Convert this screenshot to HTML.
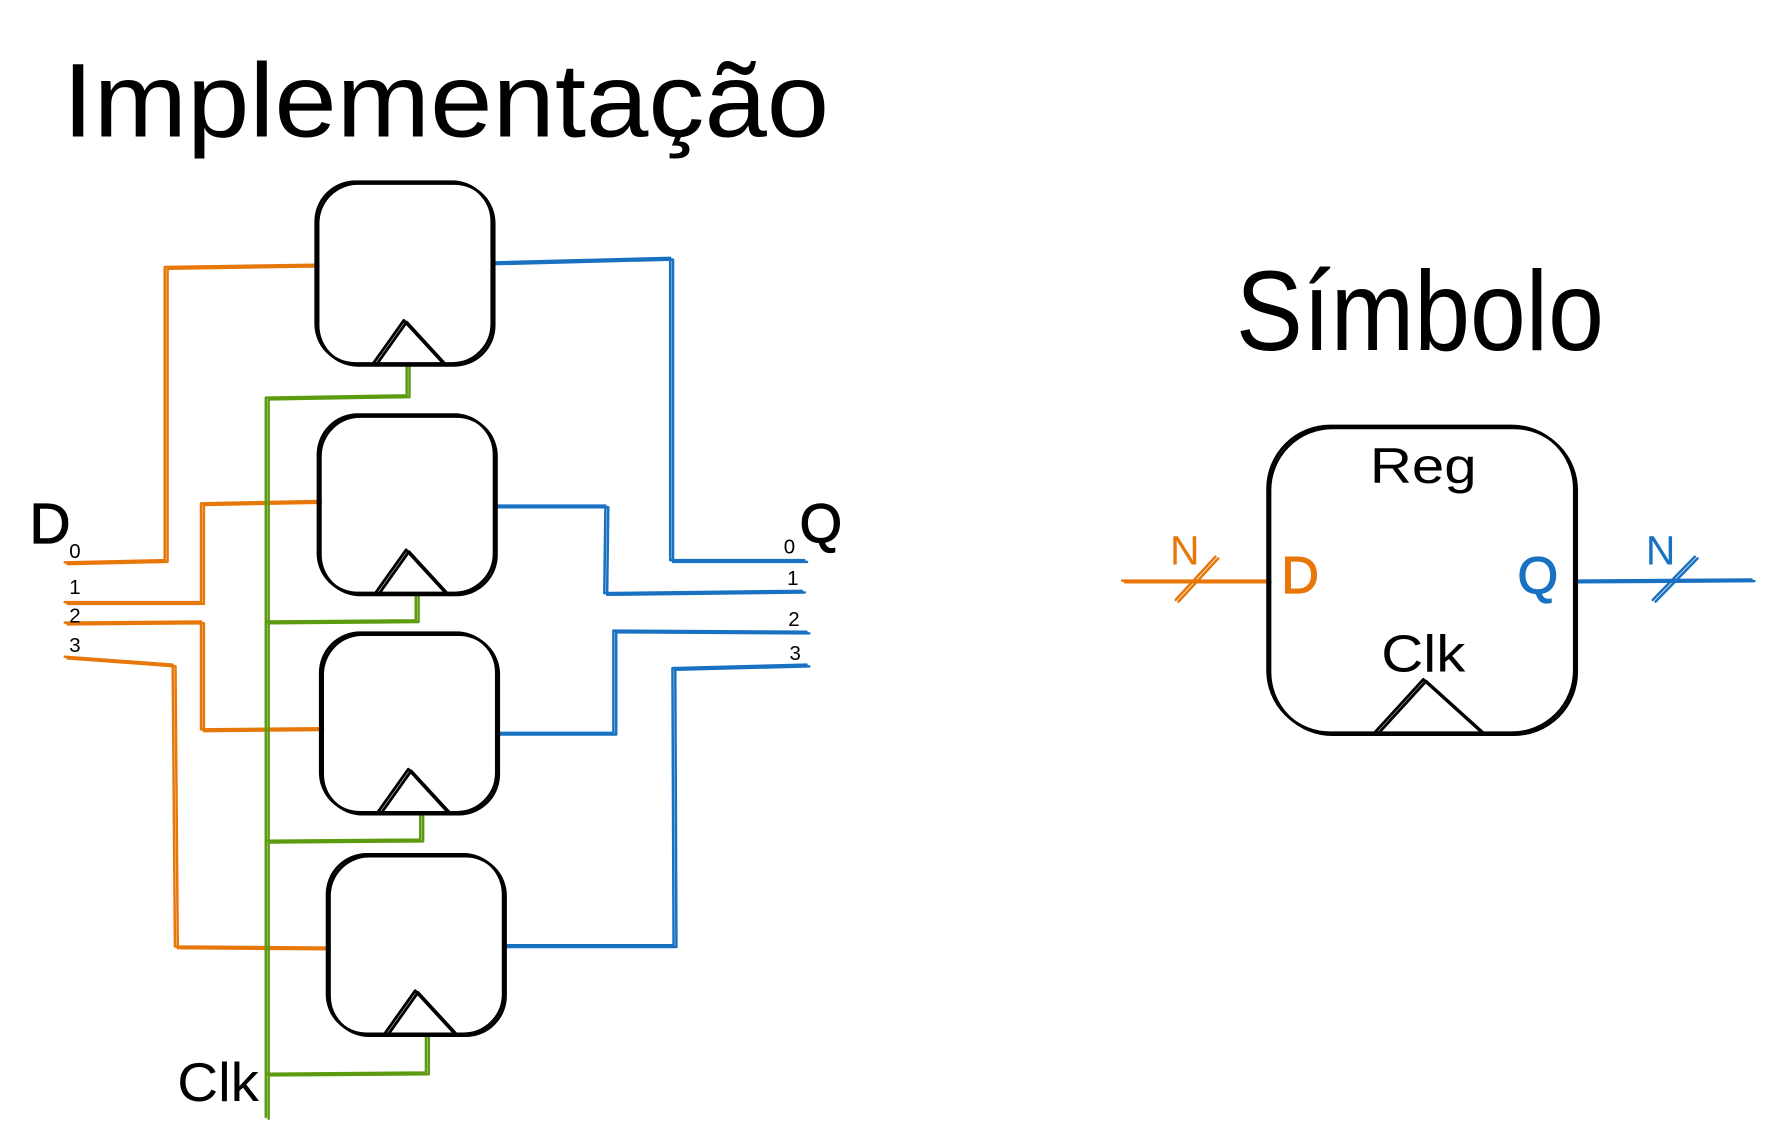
<!DOCTYPE html>
<html><head><meta charset="utf-8"><style>
html,body{margin:0;padding:0;background:#fff;}
svg{display:block;}
text{font-family:"Liberation Sans",sans-serif;}
</style></head><body>
<svg id="s" width="1772" height="1143" viewBox="0 0 1560 1006" preserveAspectRatio="none" xmlns="http://www.w3.org/2000/svg">
<rect width="1560" height="1006" fill="#fff"/>
<text x="55" y="120" font-size="92" textLength="675" lengthAdjust="spacingAndGlyphs" fill="#000">Implementação</text>
<text x="1088" y="308" font-size="100" textLength="324" lengthAdjust="spacingAndGlyphs" fill="#000">Símbolo</text>
<g id="wires"></g>
<g id="boxes" fill="none" stroke="#000" stroke-width="2.5" stroke-linecap="round" stroke-linejoin="round"></g>
<text x="26" y="478" font-size="50" fill="#000" stroke="#000" stroke-width="1">D</text>
<text x="61" y="491" font-size="18">0</text>
<text x="61" y="523" font-size="18">1</text>
<text x="61" y="548" font-size="18">2</text>
<text x="61" y="574" font-size="18">3</text>
<text x="704" y="477" font-size="48" fill="#000" stroke="#000" stroke-width="1">Q</text>
<text x="690" y="487" font-size="18">0</text>
<text x="693" y="515" font-size="18">1</text>
<text x="694" y="551" font-size="18">2</text>
<text x="695" y="581" font-size="18">3</text>
<text x="156" y="969" font-size="48" textLength="72" lengthAdjust="spacingAndGlyphs" fill="#000">Clk</text>
<text x="1206" y="425" font-size="44" textLength="94" lengthAdjust="spacingAndGlyphs" fill="#000">Reg</text>
<text x="1128" y="522" font-size="46" fill="#e8770a" stroke="#e8770a" stroke-width="1">D</text>
<text x="1336" y="522" font-size="46" fill="#1971c2" stroke="#1971c2" stroke-width="1">Q</text>
<text x="1216" y="591" font-size="46" textLength="74" lengthAdjust="spacingAndGlyphs" fill="#000">Clk</text>
<text x="1030" y="497" font-size="36" fill="#e8770a">N</text>
<text x="1449" y="497" font-size="36" fill="#1971c2">N</text>
</svg>
<script>
const NS="http://www.w3.org/2000/svg";
const O="#e8770a",B="#1971c2",G="#5c9a0f";
const wireG=document.getElementById('wires');
const boxG=document.getElementById('boxes');
function pl(parent,pts,color,name,w){
  for(let k=0;k<2;k++){
    const p=document.createElementNS(NS,'polyline');
    p.setAttribute('points',pts.map(q=>(q[0]+k*2.5)+','+(q[1]+k*1.5)).join(' '));
    p.setAttribute('fill','none');p.setAttribute('stroke',color);
    p.setAttribute('stroke-width',w||2.2);p.setAttribute('stroke-linecap','round');p.setAttribute('stroke-linejoin','round');
    
    
    parent.appendChild(p);
  }
}
pl(wireG,[[57,495],[145,493],[145,235],[278,233]],O,'wire-d0');
pl(wireG,[[57,530],[177,530],[177,443],[280,441]],O,'wire-d1');
pl(wireG,[[57,548],[177,547],[177,642],[282,641]],O,'wire-d2');
pl(wireG,[[57,578],[152,585],[154,833],[288,834]],O,'wire-d3');
pl(wireG,[[433,231],[590,227],[590,493],[708,493]],B,'wire-q0');
pl(wireG,[[436,445],[533,445],[532,522],[706,520]],B,'wire-q1');
pl(wireG,[[437,645],[540,645],[540,555],[710,556]],B,'wire-q2');
pl(wireG,[[443,832],[593,832],[592,588],[710,585]],B,'wire-q3');
pl(wireG,[[234,350],[234,983]],G,'clk-bus');
pl(wireG,[[235,350],[358,348],[358,320]],G,'clk-branch-0');
pl(wireG,[[235,547],[366,546],[366,522]],G,'clk-branch-1');
pl(wireG,[[235,740],[370,739],[370,715]],G,'clk-branch-2');
pl(wireG,[[235,945],[375,944],[375,910]],G,'clk-branch-3');
pl(wireG,[[988,511],[1116,511]],O,'sym-d-wire');
pl(wireG,[[1035,528],[1070,490]],O,'sym-d-slash');
pl(wireG,[[1386,511],[1542,510]],B,'sym-q-wire');
pl(wireG,[[1455,528],[1492,490]],B,'sym-q-slash');
const boxes=[[278,160,155,160],[280,365,155,157],[282,557,155,158],[288,752,155,158]];
boxes.forEach((b,i)=>{
  for(let k=0;k<2;k++){
    const r=document.createElementNS(NS,'rect');
    r.setAttribute('x',b[0]+k*2);r.setAttribute('y',b[1]+k*1.5);
    r.setAttribute('width',b[2]);r.setAttribute('height',b[3]);
    r.setAttribute('rx',35);
    
    
    boxG.appendChild(r);
  }
  const cx=b[0]+b[2]/2, by=b[1]+b[3];
  pl(boxG,[[cx-27,by],[cx,by-38],[cx+35,by]],'#000','clock-triangle-'+i,2.5);
});
for(let k=0;k<2;k++){
  const r=document.createElementNS(NS,'rect');
  r.setAttribute('x',1116+k*2);r.setAttribute('y',375+k*1.5);
  r.setAttribute('width',270);r.setAttribute('height',270);r.setAttribute('rx',55);
  
  
  boxG.appendChild(r);
}
pl(boxG,[[1210,645],[1253,598],[1305,645]],'#000','sym-clock-triangle',2.5);
</script>
</body></html>
